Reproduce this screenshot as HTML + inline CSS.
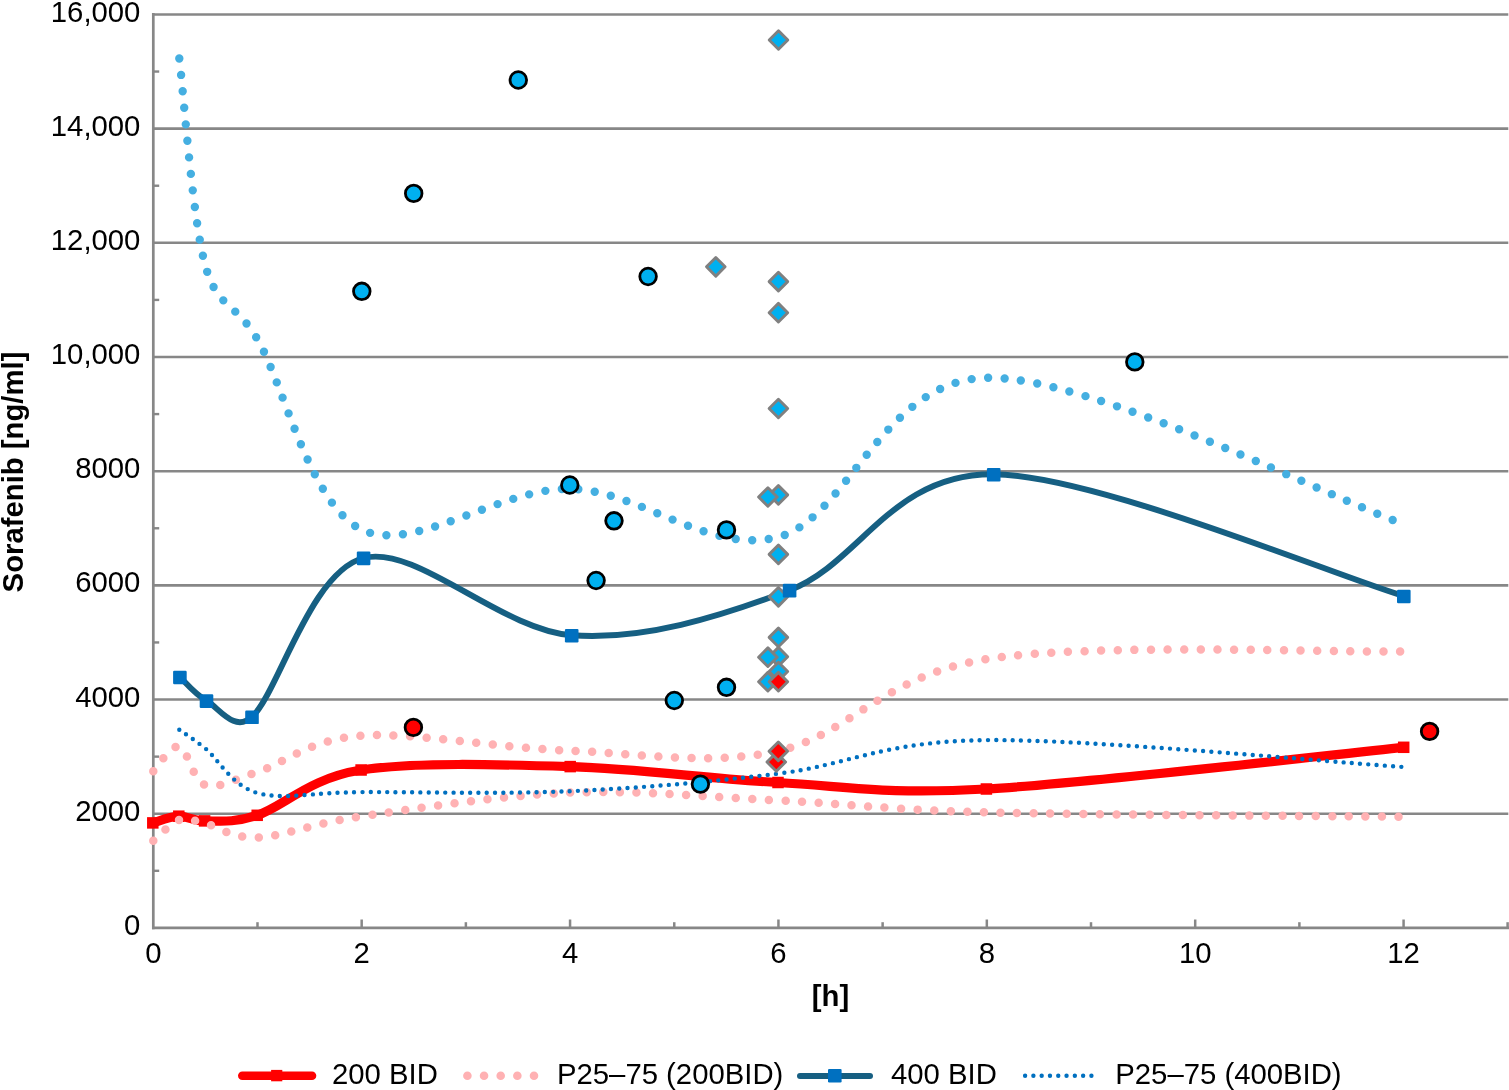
<!DOCTYPE html>
<html><head><meta charset="utf-8"><title>Sorafenib</title>
<style>
html,body{margin:0;padding:0;background:#fff;}
body{width:1509px;height:1090px;overflow:hidden;}
svg{display:block;}
.t{font-family:"Liberation Sans",Arial,Helvetica,sans-serif;font-size:29.3px;fill:#000;}
.b{font-family:"Liberation Sans",Arial,Helvetica,sans-serif;font-size:29.3px;font-weight:bold;fill:#000;}
</style></head><body>
<svg width="1509" height="1090" viewBox="0 0 1509 1090">
<line x1="152.0" y1="813.72" x2="1508.3" y2="813.72" stroke="#878787" stroke-width="2.6"/>
<line x1="152.0" y1="699.54" x2="1508.3" y2="699.54" stroke="#878787" stroke-width="2.6"/>
<line x1="152.0" y1="585.36" x2="1508.3" y2="585.36" stroke="#878787" stroke-width="2.6"/>
<line x1="152.0" y1="471.18" x2="1508.3" y2="471.18" stroke="#878787" stroke-width="2.6"/>
<line x1="152.0" y1="357.00" x2="1508.3" y2="357.00" stroke="#878787" stroke-width="2.6"/>
<line x1="152.0" y1="242.82" x2="1508.3" y2="242.82" stroke="#878787" stroke-width="2.6"/>
<line x1="152.0" y1="128.64" x2="1508.3" y2="128.64" stroke="#878787" stroke-width="2.6"/>
<line x1="152.0" y1="14.46" x2="1508.3" y2="14.46" stroke="#878787" stroke-width="2.6"/>
<line x1="153.3" y1="870.81" x2="159.2" y2="870.81" stroke="#878787" stroke-width="2.4"/>
<line x1="153.3" y1="756.63" x2="159.2" y2="756.63" stroke="#878787" stroke-width="2.4"/>
<line x1="153.3" y1="642.45" x2="159.2" y2="642.45" stroke="#878787" stroke-width="2.4"/>
<line x1="153.3" y1="528.27" x2="159.2" y2="528.27" stroke="#878787" stroke-width="2.4"/>
<line x1="153.3" y1="414.09" x2="159.2" y2="414.09" stroke="#878787" stroke-width="2.4"/>
<line x1="153.3" y1="299.91" x2="159.2" y2="299.91" stroke="#878787" stroke-width="2.4"/>
<line x1="153.3" y1="185.73" x2="159.2" y2="185.73" stroke="#878787" stroke-width="2.4"/>
<line x1="153.3" y1="71.55" x2="159.2" y2="71.55" stroke="#878787" stroke-width="2.4"/>
<line x1="153.30" y1="13" x2="153.30" y2="929.2" stroke="#878787" stroke-width="2.7"/>
<line x1="152.0" y1="927.90" x2="1509" y2="927.90" stroke="#878787" stroke-width="2.6"/>
<line x1="257.49" y1="922.2" x2="257.49" y2="927.90" stroke="#878787" stroke-width="2.5"/>
<line x1="361.68" y1="919.5" x2="361.68" y2="927.90" stroke="#878787" stroke-width="2.5"/>
<line x1="465.87" y1="922.2" x2="465.87" y2="927.90" stroke="#878787" stroke-width="2.5"/>
<line x1="570.06" y1="919.5" x2="570.06" y2="927.90" stroke="#878787" stroke-width="2.5"/>
<line x1="674.25" y1="922.2" x2="674.25" y2="927.90" stroke="#878787" stroke-width="2.5"/>
<line x1="778.44" y1="919.5" x2="778.44" y2="927.90" stroke="#878787" stroke-width="2.5"/>
<line x1="882.63" y1="922.2" x2="882.63" y2="927.90" stroke="#878787" stroke-width="2.5"/>
<line x1="986.82" y1="919.5" x2="986.82" y2="927.90" stroke="#878787" stroke-width="2.5"/>
<line x1="1091.01" y1="922.2" x2="1091.01" y2="927.90" stroke="#878787" stroke-width="2.5"/>
<line x1="1195.20" y1="919.5" x2="1195.20" y2="927.90" stroke="#878787" stroke-width="2.5"/>
<line x1="1299.39" y1="922.2" x2="1299.39" y2="927.90" stroke="#878787" stroke-width="2.5"/>
<line x1="1403.58" y1="919.5" x2="1403.58" y2="927.90" stroke="#878787" stroke-width="2.5"/>
<line x1="1507.60" y1="922.2" x2="1507.60" y2="927.90" stroke="#878787" stroke-width="2.5"/>
<text transform="translate(140.4 935.00) scale(1 1.02)" text-anchor="end" class="t">0</text>
<text transform="translate(140.4 820.82) scale(1 1.02)" text-anchor="end" class="t">2000</text>
<text transform="translate(140.4 706.64) scale(1 1.02)" text-anchor="end" class="t">4000</text>
<text transform="translate(140.4 592.46) scale(1 1.02)" text-anchor="end" class="t">6000</text>
<text transform="translate(140.4 478.28) scale(1 1.02)" text-anchor="end" class="t">8000</text>
<text transform="translate(140.4 364.10) scale(1 1.02)" text-anchor="end" class="t">10,000</text>
<text transform="translate(140.4 249.92) scale(1 1.02)" text-anchor="end" class="t">12,000</text>
<text transform="translate(140.4 135.74) scale(1 1.02)" text-anchor="end" class="t">14,000</text>
<text transform="translate(140.4 21.56) scale(1 1.02)" text-anchor="end" class="t">16,000</text>
<text transform="translate(153.30 962.7) scale(1 1.02)" text-anchor="middle" class="t">0</text>
<text transform="translate(361.68 962.7) scale(1 1.02)" text-anchor="middle" class="t">2</text>
<text transform="translate(570.06 962.7) scale(1 1.02)" text-anchor="middle" class="t">4</text>
<text transform="translate(778.44 962.7) scale(1 1.02)" text-anchor="middle" class="t">6</text>
<text transform="translate(986.82 962.7) scale(1 1.02)" text-anchor="middle" class="t">8</text>
<text transform="translate(1195.20 962.7) scale(1 1.02)" text-anchor="middle" class="t">10</text>
<text transform="translate(1403.58 962.7) scale(1 1.02)" text-anchor="middle" class="t">12</text>
<text transform="translate(830.5 1006) scale(1 1.02)" text-anchor="middle" class="b">[h]</text>
<text transform="translate(23.4 472) rotate(-90) scale(1 1.02)" text-anchor="middle" class="b">Sorafenib [ng/ml]</text>
<path d="M152.80 822.90 C157.13 821.78 170.17 816.53 178.80 816.20 C187.43 815.87 191.53 821.05 204.60 820.90 C217.67 820.75 232.05 823.48 257.20 815.30 C283.28 806.82 308.93 778.12 361.10 770.00 C413.27 761.88 500.72 764.52 570.20 766.60 C639.68 768.68 708.63 778.77 778.00 782.50 C847.37 786.23 882.31 794.86 986.40 789.00 C1090.68 783.13 1334.15 754.25 1403.70 747.30" fill="none" stroke="#FF0000" stroke-width="9.2" stroke-linejoin="round"/>
<rect x="147.05" y="817.15" width="11.5" height="11.5" fill="#FF0000"/>
<rect x="173.05" y="810.45" width="11.5" height="11.5" fill="#FF0000"/>
<rect x="198.85" y="815.15" width="11.5" height="11.5" fill="#FF0000"/>
<rect x="251.45" y="809.55" width="11.5" height="11.5" fill="#FF0000"/>
<rect x="355.35" y="764.25" width="11.5" height="11.5" fill="#FF0000"/>
<rect x="564.45" y="760.85" width="11.5" height="11.5" fill="#FF0000"/>
<rect x="772.25" y="776.75" width="11.5" height="11.5" fill="#FF0000"/>
<rect x="980.65" y="783.25" width="11.5" height="11.5" fill="#FF0000"/>
<rect x="1397.95" y="741.55" width="11.5" height="11.5" fill="#FF0000"/>
<path d="M153.30 771.30 C157.63 767.18 170.62 744.32 179.30 746.60 C187.98 748.88 192.37 780.78 205.40 785.00 C218.43 789.22 231.89 779.99 257.50 771.90 C283.55 763.67 309.60 739.13 361.70 735.60 C413.80 732.07 500.65 748.15 570.10 750.70 C639.55 753.25 708.95 766.17 778.40 750.90 C847.85 735.63 882.60 675.68 986.80 659.10 C1091.00 642.52 1334.13 652.68 1403.60 651.40" fill="none" stroke="#FFB1B3" stroke-width="8.50" stroke-linecap="round" stroke-dasharray="0 16.600" stroke-dashoffset="0.00"/>
<path d="M153.30 840.80 C157.63 837.33 170.62 822.88 179.30 820.00 C187.98 817.12 192.55 820.62 205.40 823.50 C218.43 826.42 231.45 838.68 257.50 837.50 C283.55 836.32 309.60 823.88 361.70 816.40 C413.80 808.92 500.65 795.27 570.10 792.60 C639.55 789.93 708.95 797.12 778.40 800.40 C847.85 803.68 882.60 809.57 986.80 812.30 C1091.00 815.03 1334.13 816.05 1403.60 816.80" fill="none" stroke="#FFB1B3" stroke-width="8.50" stroke-linecap="round" stroke-dasharray="0 16.578" stroke-dashoffset="0.00"/>
<path d="M179.90 677.10 C184.33 681.03 194.48 694.07 206.50 700.70 C218.52 707.33 234.12 733.14 252.00 716.90 C278.18 693.12 310.32 571.60 363.60 558.00 C416.88 544.40 500.70 629.93 571.70 635.30 C642.70 640.67 719.27 617.03 789.60 590.20 C859.93 563.37 891.33 473.32 993.70 474.30 C1096.07 475.28 1335.45 575.80 1403.80 596.10" fill="none" stroke="#165F82" stroke-width="5.9" stroke-linejoin="round"/>
<path d="M179.30 58.50 C183.65 93.07 192.37 219.08 205.40 265.90 C217.48 309.30 234.54 300.65 257.50 339.40 C283.55 383.37 309.60 504.80 361.70 529.70 C413.80 554.60 500.65 487.58 570.10 488.80 C639.55 490.02 708.95 555.50 778.40 537.00 C847.85 518.50 882.60 379.95 986.80 377.80 C1091.00 375.65 1334.13 499.72 1403.60 524.10" fill="none" stroke="#45AFE1" stroke-width="8.40" stroke-linecap="round" stroke-dasharray="0 16.561" stroke-dashoffset="0.00"/>
<path d="M179.30 729.80 C183.65 732.92 192.91 738.41 205.40 748.50 C218.43 759.03 231.45 785.73 257.50 793.00 C283.55 800.27 309.60 792.40 361.70 792.10 C413.80 791.80 500.65 794.28 570.10 791.20 C639.55 788.12 708.95 782.12 778.40 773.60 C847.85 765.08 882.60 741.20 986.80 740.10 C1091.00 739.00 1334.13 762.52 1403.60 767.00" fill="none" stroke="#0070C0" stroke-width="4.40" stroke-linecap="round" stroke-dasharray="0 8.283" stroke-dashoffset="0.00"/>
<path d="M778.50 30.70 L787.80 40.00 L778.50 49.30 L769.20 40.00 Z" fill="#00B0F0" stroke="#808080" stroke-width="2.9" stroke-linejoin="round"/>
<path d="M715.80 257.50 L725.10 266.80 L715.80 276.10 L706.50 266.80 Z" fill="#00B0F0" stroke="#808080" stroke-width="2.9" stroke-linejoin="round"/>
<path d="M778.40 272.30 L787.70 281.60 L778.40 290.90 L769.10 281.60 Z" fill="#00B0F0" stroke="#808080" stroke-width="2.9" stroke-linejoin="round"/>
<path d="M778.40 303.40 L787.70 312.70 L778.40 322.00 L769.10 312.70 Z" fill="#00B0F0" stroke="#808080" stroke-width="2.9" stroke-linejoin="round"/>
<path d="M778.40 399.20 L787.70 408.50 L778.40 417.80 L769.10 408.50 Z" fill="#00B0F0" stroke="#808080" stroke-width="2.9" stroke-linejoin="round"/>
<path d="M778.40 485.60 L787.70 494.90 L778.40 504.20 L769.10 494.90 Z" fill="#00B0F0" stroke="#808080" stroke-width="2.9" stroke-linejoin="round"/>
<path d="M767.90 487.70 L777.20 497.00 L767.90 506.30 L758.60 497.00 Z" fill="#00B0F0" stroke="#808080" stroke-width="2.9" stroke-linejoin="round"/>
<path d="M778.40 545.10 L787.70 554.40 L778.40 563.70 L769.10 554.40 Z" fill="#00B0F0" stroke="#808080" stroke-width="2.9" stroke-linejoin="round"/>
<path d="M778.40 587.50 L787.70 596.80 L778.40 606.10 L769.10 596.80 Z" fill="#00B0F0" stroke="#808080" stroke-width="2.9" stroke-linejoin="round"/>
<path d="M778.40 628.10 L787.70 637.40 L778.40 646.70 L769.10 637.40 Z" fill="#00B0F0" stroke="#808080" stroke-width="2.9" stroke-linejoin="round"/>
<path d="M778.40 647.40 L787.70 656.70 L778.40 666.00 L769.10 656.70 Z" fill="#00B0F0" stroke="#808080" stroke-width="2.9" stroke-linejoin="round"/>
<path d="M767.90 647.90 L777.20 657.20 L767.90 666.50 L758.60 657.20 Z" fill="#00B0F0" stroke="#808080" stroke-width="2.9" stroke-linejoin="round"/>
<path d="M778.40 662.20 L787.70 671.50 L778.40 680.80 L769.10 671.50 Z" fill="#00B0F0" stroke="#808080" stroke-width="2.9" stroke-linejoin="round"/>
<path d="M767.90 672.40 L777.20 681.70 L767.90 691.00 L758.60 681.70 Z" fill="#00B0F0" stroke="#808080" stroke-width="2.9" stroke-linejoin="round"/>
<path d="M778.40 672.40 L787.70 681.70 L778.40 691.00 L769.10 681.70 Z" fill="#FF0000" stroke="#808080" stroke-width="2.9" stroke-linejoin="round"/>
<path d="M776.30 752.70 L785.60 762.00 L776.30 771.30 L767.00 762.00 Z" fill="#FF0000" stroke="#808080" stroke-width="2.9" stroke-linejoin="round"/>
<path d="M778.30 742.00 L787.60 751.30 L778.30 760.60 L769.00 751.30 Z" fill="#FF0000" stroke="#808080" stroke-width="2.9" stroke-linejoin="round"/>
<rect x="173.10" y="670.70" width="13.6" height="13.6" rx="1.2" fill="#0070C0"/>
<rect x="199.70" y="694.30" width="13.6" height="13.6" rx="1.2" fill="#0070C0"/>
<rect x="245.20" y="710.50" width="13.6" height="13.6" rx="1.2" fill="#0070C0"/>
<rect x="356.80" y="551.60" width="13.6" height="13.6" rx="1.2" fill="#0070C0"/>
<rect x="564.90" y="628.90" width="13.6" height="13.6" rx="1.2" fill="#0070C0"/>
<rect x="782.80" y="583.80" width="13.6" height="13.6" rx="1.2" fill="#0070C0"/>
<rect x="986.90" y="467.90" width="13.6" height="13.6" rx="1.2" fill="#0070C0"/>
<rect x="1397.00" y="589.70" width="13.6" height="13.6" rx="1.2" fill="#0070C0"/>
<circle cx="518.30" cy="80.00" r="8.3" fill="#00B0F0" stroke="#000" stroke-width="2.8"/>
<circle cx="413.70" cy="193.40" r="8.3" fill="#00B0F0" stroke="#000" stroke-width="2.8"/>
<circle cx="361.80" cy="291.30" r="8.3" fill="#00B0F0" stroke="#000" stroke-width="2.8"/>
<circle cx="648.10" cy="276.50" r="8.3" fill="#00B0F0" stroke="#000" stroke-width="2.8"/>
<circle cx="1134.80" cy="361.90" r="8.3" fill="#00B0F0" stroke="#000" stroke-width="2.8"/>
<circle cx="569.80" cy="485.00" r="8.3" fill="#00B0F0" stroke="#000" stroke-width="2.8"/>
<circle cx="614.00" cy="520.80" r="8.3" fill="#00B0F0" stroke="#000" stroke-width="2.8"/>
<circle cx="596.10" cy="580.50" r="8.3" fill="#00B0F0" stroke="#000" stroke-width="2.8"/>
<circle cx="726.50" cy="529.90" r="8.3" fill="#00B0F0" stroke="#000" stroke-width="2.8"/>
<circle cx="726.50" cy="687.30" r="8.3" fill="#00B0F0" stroke="#000" stroke-width="2.8"/>
<circle cx="674.30" cy="700.50" r="8.3" fill="#00B0F0" stroke="#000" stroke-width="2.8"/>
<circle cx="700.40" cy="784.10" r="8.3" fill="#00B0F0" stroke="#000" stroke-width="2.8"/>
<circle cx="413.40" cy="727.40" r="8.3" fill="#FF0000" stroke="#000" stroke-width="2.8"/>
<circle cx="1429.60" cy="731.40" r="8.3" fill="#FF0000" stroke="#000" stroke-width="2.8"/>
<line x1="242.3" y1="1075.7" x2="312" y2="1075.7" stroke="#FF0000" stroke-width="8.6" stroke-linecap="round"/>
<rect x="271.1" y="1069.9" width="11.2" height="11.4" fill="#FF0000"/>
<text transform="translate(332 1084.3) scale(1 1.02)" class="t">200 BID</text>
<line x1="467.4" y1="1075.7" x2="534.5" y2="1075.7" stroke="#FFB1B3" stroke-width="8.6" stroke-linecap="round" stroke-dasharray="0 16.65"/>
<text transform="translate(557 1084.3) scale(1 1.02)" class="t">P25&#8211;75 (200BID)</text>
<line x1="800" y1="1075.9" x2="870" y2="1075.9" stroke="#165F82" stroke-width="6.0" stroke-linecap="round"/>
<rect x="828.0" y="1068.9" width="13.6" height="13.6" rx="1.2" fill="#0070C0"/>
<text transform="translate(891 1084.3) scale(1 1.02)" class="t">400 BID</text>
<line x1="1025.1" y1="1075.7" x2="1091.6" y2="1075.7" stroke="#0070C0" stroke-width="4.4" stroke-linecap="round" stroke-dasharray="0 8.29"/>
<text transform="translate(1115.3 1084.3) scale(1 1.02)" class="t">P25&#8211;75 (400BID)</text>
</svg>
</body></html>
